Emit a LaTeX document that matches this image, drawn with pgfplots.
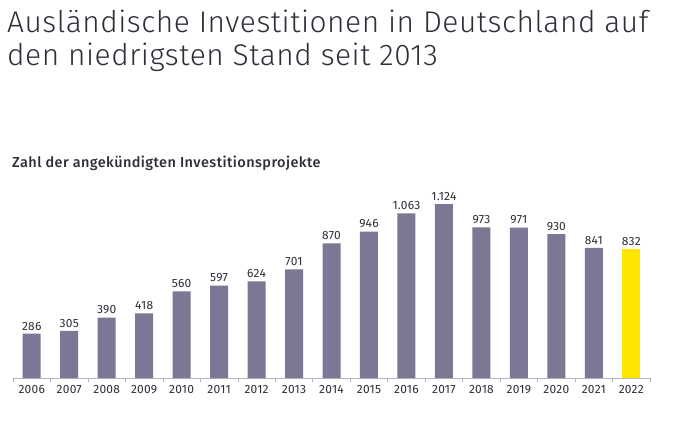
\documentclass[border=0pt]{standalone}
\usepackage{fontspec}
\setmainfont{Fira Sans}
\newfontfamily\titlefont[LetterSpace=1.8]{Fira Sans Light}
\newfontfamily\subfont[LetterSpace=3]{Fira Sans Medium}
\newfontfamily\numfont[LetterSpace=2]{Fira Sans}
\usepackage{pgfplots}
\pgfplotsset{compat=1.18}
\definecolor{barc}{HTML}{7B7794}
\definecolor{eyy}{HTML}{FFE600}
\definecolor{txt}{HTML}{2E2E38}
\definecolor{axc}{HTML}{B4B4C4}
\begin{document}
\begin{tikzpicture}[x=1bp,y=1bp]
\path[use as bounding box] (0,0) rectangle (677,421);
\node[anchor=base west, inner sep=0, text=txt, font=\titlefont\fontsize{30}{32}\selectfont] at (7,388) {Ausländische Investitionen in Deutschland auf};
\node[anchor=base west, inner sep=0, text=txt, font=\titlefont\fontsize{30}{32}\selectfont] at (7,356) {den niedrigsten Stand seit 2013};
\node[anchor=base west, inner sep=0, text=txt, font=\subfont\fontsize{14.5}{16}\selectfont] at (12,254) {Zahl der angekündigten Investitionsprojekte};
\begin{axis}[
  at={(13bp,43bp)}, anchor=south west, scale only axis,
  width=637bp, height=200bp,
  xmin=-0.5, xmax=16.5, ymin=0, ymax=1292,
  axis x line*=bottom, axis y line=none,
  x axis line style={draw=axc, line width=0.8pt},
  ybar, bar width=18bp, bar shift=0pt,
  xtick={0,...,16},
  xticklabels={2006,2007,2008,2009,2010,2011,2012,2013,2014,2015,2016,2017,2018,2019,2020,2021,2022},
  major tick length=0pt,
  minor xtick={-0.5,0.5,...,16.5},
  minor tick length=4bp, tick align=outside,
  minor tick style={draw=axc, line width=0.6pt},
  xticklabel style={font=\numfont\fontsize{12}{14}\selectfont, text=txt, yshift=-4bp},
  nodes near coords, point meta=explicit symbolic,
  nodes near coords style={font=\numfont\fontsize{12}{14}\selectfont, text=txt},
  clip=false,
]
\addplot[fill=barc, draw=none] table[meta=label] {
x y label
0 286 286
1 305 305
2 390 390
3 418 418
4 560 560
5 597 597
6 624 624
7 701 701
8 870 870
9 946 946
10 1063 1.063
11 1124 1.124
12 973 973
13 971 971
14 930 930
15 841 841
};
\addplot[fill=eyy, draw=none] table[meta=label] {
x y label
16 832 832
};
\end{axis}
\end{tikzpicture}
\end{document}
